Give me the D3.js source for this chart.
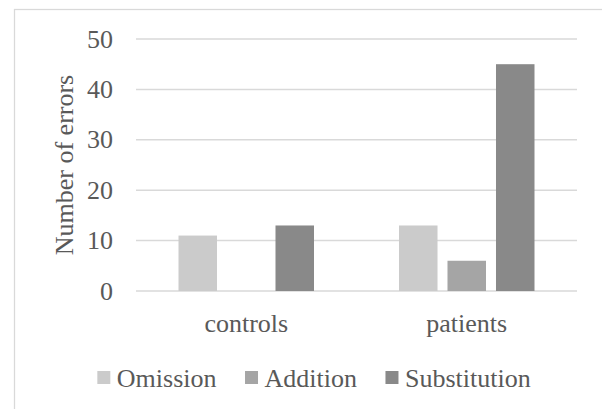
<!DOCTYPE html>
<html>
<head>
<meta charset="utf-8">
<script src="https://cdn.jsdelivr.net/npm/d3@7"></script>
</head>
<body style="margin:0; background:#ffffff">
<script>
// ---- data ----
const categories = ["controls", "patients"];
const seriesNames = ["Omission", "Addition", "Substitution"];
const omission = [11, 13];
const addition = [0, 6];
const substitution = [13, 45];
const yTicks = [0, 10, 20, 30, 40, 50];
const yTitle = "Number of errors";
const colors = ["#cbcbcb", "#a5a5a5", "#898989"];

const seriesValues = [omission, addition, substitution];

const W = 602, H = 409;
const families = ["Liberation Serif", "Tinos", "Times New Roman"];
const FONT = families.map(f => `"${f}"`).join(", ") + ", serif";
const textColor = "#595959";

const svg = d3.select("body").append("svg").attr("width", W).attr("height", H)
  .style("display", "block");

function styleText(sel) {
  sel.attr("font-family", FONT)
    .style("font-family", FONT)
    .style("font-size", "26px")
    .style("font-weight", "400")
    .attr("fill", textColor);
}

// chart border
svg.append("rect")
  .attr("x", 14.5).attr("y", 9.5)
  .attr("width", 620).attr("height", 420)
  .attr("fill", "#ffffff")
  .attr("stroke", "#d9d9d9").attr("stroke-width", 1.25);

const plot = { left: 136, right: 577, top: 39, bottom: 291 };

const y = d3.scaleLinear().domain([0, 50]).range([plot.bottom, plot.top]);
const x0 = d3.scaleBand().domain(categories).range([plot.left, plot.right]).padding(0);
const groupInset = 42.5;
const x1 = d3.scaleBand().domain(seriesNames)
  .range([groupInset, x0.bandwidth() - groupInset])
  .paddingInner(0.206).paddingOuter(0);

// gridlines
svg.append("g").selectAll("line").data(yTicks).join("line")
  .attr("x1", plot.left).attr("x2", plot.right)
  .attr("y1", d => y(d)).attr("y2", d => y(d))
  .attr("stroke", "#d9d9d9").attr("stroke-width", 1.5);

// y axis labels via d3 axis
const yAxis = d3.axisLeft(y).tickValues(yTicks).tickSize(0).tickPadding(0);
const gy = svg.append("g").attr("transform", `translate(${113},0)`).call(yAxis);
gy.attr("font-family", FONT).attr("font-size", 26);
gy.select(".domain").remove();
gy.selectAll("text").call(styleText).attr("dy", "0.31em");

// bars
const data = [];
categories.forEach((c, ci) => {
  seriesNames.forEach((s, si) => {
    data.push({ cat: c, series: s, value: seriesValues[si][ci], color: colors[si] });
  });
});
svg.append("g").selectAll("rect").data(data.filter(d => d.value > 0)).join("rect")
  .attr("x", d => x0(d.cat) + x1(d.series))
  .attr("width", x1.bandwidth())
  .attr("y", d => y(d.value))
  .attr("height", d => y(0) - y(d.value))
  .attr("fill", d => d.color);

// x axis labels via d3 axis
const xAxis = d3.axisBottom(x0).tickSize(0).tickPadding(0);
const gx = svg.append("g").attr("transform", `translate(0,${plot.bottom})`).call(xAxis);
gx.attr("font-family", FONT).attr("font-size", 26);
gx.select(".domain").remove();
gx.selectAll("text").call(styleText).attr("y", 41).attr("dy", 0);

// y title
svg.append("text")
  .attr("transform", `translate(73,${(plot.top + plot.bottom) / 2}) rotate(-90)`)
  .attr("text-anchor", "middle")
  .call(styleText)
  .text(yTitle);

// legend
const legend = svg.append("g");
const items = legend.selectAll("g").data(seriesNames).join("g");
items.append("rect").attr("width", 13).attr("height", 13).attr("y", 371)
  .attr("fill", (d, i) => colors[i]);
items.append("text").attr("x", 19.5).attr("y", 387).call(styleText).text(d => d);
let widths = [];
items.each(function () {
  widths.push(19.5 + d3.select(this).select("text").node().getComputedTextLength());
});
const gap = 28.5;
const total = d3.sum(widths) + gap * (widths.length - 1);
let cx = 314 - total / 2;
items.each(function (d, i) {
  d3.select(this).attr("transform", `translate(${cx},0)`);
  cx += widths[i] + gap;
});
</script>
</body>
</html>
